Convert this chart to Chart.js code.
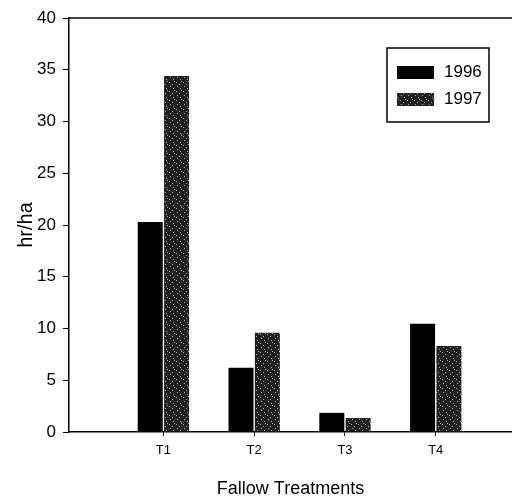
<!DOCTYPE html>
<html>
<head>
<meta charset="utf-8">
<script src="https://cdn.jsdelivr.net/npm/chart.js@4.4.0/dist/chart.umd.min.js"></script>
<style>
  html, body { margin: 0; padding: 0; background: #fff; }
  #wrap { width: 512px; height: 500px; }
</style>
</head>
<body>
<div id="wrap"><canvas id="c" width="512" height="500"></canvas></div>
<script>
const categories = ['T1', 'T2', 'T3', 'T4'];
const seriesLabels = ['1996', '1997'];
const values1996 = [20.3, 6.2, 1.85, 10.45];
const values1997 = [34.4, 9.6, 1.35, 8.3];
const yTicks = [0, 5, 10, 15, 20, 25, 30, 35, 40];

const FONT = '"Liberation Sans", Arial, sans-serif';

function makePattern() {
  const p = document.createElement('canvas');
  p.width = 7; p.height = 9;
  const g = p.getContext('2d');
  g.fillStyle = '#222';
  g.fillRect(0, 0, 7, 9);
  g.fillStyle = '#a8a8a8';
  const dots = [[1,1],[4,3],[2,5],[5,7],[6,0]];
  dots.forEach(d => g.fillRect(d[0], d[1], 1, 1));
  return document.getElementById('c').getContext('2d').createPattern(p, 'repeat');
}
const stipple = makePattern();

const toPoints = arr => arr.map((v, i) => ({ x: i + 1, y: v }));

const topLine = {
  id: 'topLine',
  afterDraw(chart) {
    const { ctx, chartArea } = chart;
    ctx.save();
    ctx.strokeStyle = '#000';
    ctx.lineWidth = 1.5;
    ctx.beginPath();
    ctx.moveTo(chartArea.left, chartArea.top);
    ctx.lineTo(chart.width, chartArea.top);
    ctx.stroke();
    ctx.restore();
  }
};

const boxLegend = {
  id: 'boxLegend',
  afterDraw(chart) {
    const { ctx } = chart;
    ctx.save();
    ctx.strokeStyle = '#000';
    ctx.lineWidth = 1.5;
    ctx.strokeRect(387, 48, 102, 74);
    const rows = [66, 93];
    chart.data.datasets.forEach((ds, i) => {
      ctx.fillStyle = ds.backgroundColor;
      ctx.fillRect(397, rows[i], 37, 13);
      ctx.fillStyle = '#000';
      ctx.font = '17px ' + FONT;
      ctx.textBaseline = 'middle';
      ctx.textAlign = 'left';
      ctx.fillText(ds.label, 444, rows[i] + 6);
    });
    ctx.restore();
  }
};

new Chart(document.getElementById('c'), {
  type: 'bar',
  data: {
    datasets: [
      { label: seriesLabels[0], data: toPoints(values1996), backgroundColor: '#000', borderWidth: 0 },
      { label: seriesLabels[1], data: toPoints(values1997), backgroundColor: stipple, borderWidth: 0 }
    ]
  },
  options: {
    responsive: false,
    animation: false,
    devicePixelRatio: 1,
    layout: { padding: { top: 18, right: 0, left: 0, bottom: 0 } },
    categoryPercentage: 0.58,
    barPercentage: 0.95,
    plugins: { legend: { display: false }, tooltip: { enabled: false } },
    scales: {
      x: {
        type: 'linear',
        min: -0.04,
        max: 4.84,
        offset: false,
        afterBuildTicks: s => { s.ticks = categories.map((c, i) => ({ value: i + 1 })); },
        afterFit: s => { s.height = 68; },
        ticks: {
          callback: v => categories[Math.round(v) - 1] || '',
          color: '#000',
          font: { family: FONT, size: 13 },
          padding: 7,
          autoSkip: false,
          maxRotation: 0
        },
        grid: { offset: false, drawOnChartArea: false, drawTicks: true, tickLength: 4, color: '#000' },
        border: { display: true, color: '#000', width: 1.5 },
        title: {
          display: true,
          text: 'Fallow Treatments',
          color: '#000',
          font: { family: FONT, size: 18 },
          padding: { top: 10, bottom: 0 }
        }
      },
      y: {
        min: 0,
        max: 40,
        afterBuildTicks: s => { s.ticks = yTicks.map(v => ({ value: v })); },
        afterFit: s => { s.width = 69; },
        ticks: {
          color: '#000',
          font: { family: FONT, size: 17 },
          padding: 7
        },
        grid: { drawOnChartArea: false, drawTicks: true, tickLength: 6, color: '#000' },
        border: { display: true, color: '#000', width: 1.5 },
        title: {
          display: true,
          text: 'hr/ha',
          color: '#000',
          font: { family: FONT, size: 20 },
          padding: { top: 14, bottom: 0 }
        }
      }
    }
  },
  plugins: [topLine, boxLegend]
});
</script>
</body>
</html>
